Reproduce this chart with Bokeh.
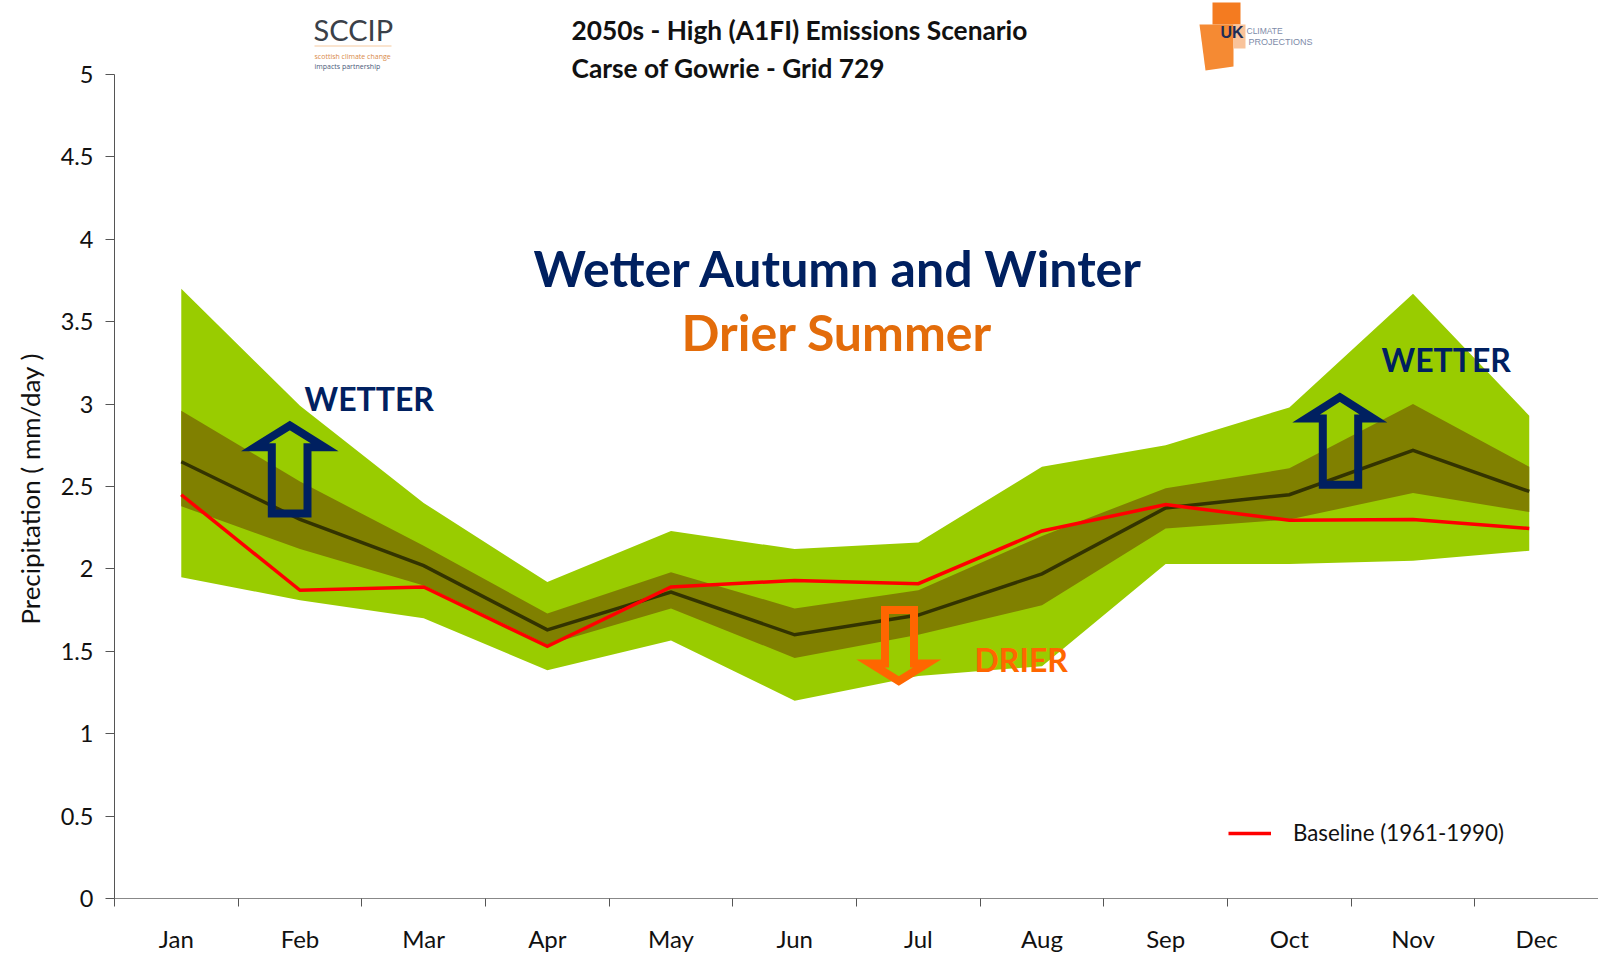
from bokeh.plotting import figure
from bokeh.embed import file_html
from bokeh.resources import INLINE
from bokeh.models import (Range1d, LinearAxis, FixedTicker, Label, PolyAnnotation,
                          Legend, LegendItem, Title)

months = ["Jan","Feb","Mar","Apr","May","Jun","Jul","Aug","Sep","Oct","Nov","Dec"]
month_pos = [0.54,1.5,2.5,3.5,4.5,5.5,6.5,7.5,8.5,9.5,10.5,11.44]
outer_high = [3.70,2.99,2.40,1.92,2.23,2.12,2.16,2.62,2.75,2.98,3.67,2.93]
outer_low  = [1.95,1.81,1.70,1.385,1.565,1.20,1.35,1.41,2.03,2.03,2.05,2.11]
inner_high = [2.96,2.53,2.14,1.73,1.98,1.76,1.87,2.20,2.49,2.61,3.00,2.62]
inner_low  = [2.38,2.12,1.90,1.54,1.76,1.46,1.60,1.78,2.245,2.30,2.46,2.345]
central    = [2.65,2.30,2.02,1.63,1.86,1.60,1.72,1.97,2.37,2.45,2.72,2.47]
baseline   = [2.45,1.87,1.89,1.53,1.89,1.93,1.91,2.23,2.39,2.295,2.30,2.245]
y_ticks = [0,0.5,1,1.5,2,2.5,3,3.5,4,4.5,5]
y_labels = ["0","0.5","1","1.5","2","2.5","3","3.5","4","4.5","5"]

FONT = "Lato"
NAVY = "#002060"
INK = "#111111"
# plot area: y=0 lies 898px down the page, y=5 lies 74px down
y_top = 5 * 898 / (898 - 74)

p = figure(width=1598, height=955, output_backend="svg", toolbar_location=None,
           x_range=Range1d(0,12), y_range=Range1d(0,y_top),
           x_axis_type=None, y_axis_type=None,
           min_border_left=114, min_border_right=0, min_border_top=0, min_border_bottom=57)
p.grid.visible = False
p.outline_line_color = None
p.background_fill_color = "white"

yax = LinearAxis(ticker=FixedTicker(ticks=y_ticks), bounds=(0,5),
                 major_label_overrides={t: s for t, s in zip(y_ticks, y_labels)},
                 major_label_text_font=FONT, major_label_text_font_size="23.5px",
                 major_label_text_color=INK, major_label_standoff=12,
                 major_tick_out=9, major_tick_in=0, minor_tick_out=0, minor_tick_in=0,
                 axis_line_color="#555555", major_tick_line_color="#555555")
p.add_layout(yax, "left")
p.add_layout(Title(text="Precipitation ( mm/day )", align="left", offset=274, standoff=22,
                   vertical_align="middle",
                   text_font=FONT, text_font_style="normal", text_font_size="25.9px",
                   text_color=INK), "left")

centers = [i + 0.5 for i in range(12)]
xax = LinearAxis(ticker=FixedTicker(ticks=centers, minor_ticks=list(range(13))),
                 major_label_overrides={c: m for c, m in zip(centers, months)},
                 major_label_text_font=FONT, major_label_text_font_size="24px",
                 major_label_text_color=INK, major_label_standoff=17,
                 major_tick_out=0, major_tick_in=0, minor_tick_out=8, minor_tick_in=0,
                 axis_line_color="#888888", minor_tick_line_color="#555555")
p.add_layout(xax, "below")

p.varea(x=month_pos, y1=outer_low, y2=outer_high, fill_color="#99CC00")
p.varea(x=month_pos, y1=inner_low, y2=inner_high, fill_color="#808000")
p.line(month_pos, central, line_color="#333300", line_width=3.5, line_join="miter")
base = p.line(month_pos, baseline, line_color="#FF0000", line_width=3.5, line_join="miter")

leg = Legend(items=[LegendItem(label="Baseline (1961-1990)", renderers=[base])],
             location=(1114, 52), border_line_color=None, background_fill_alpha=0,
             padding=0, margin=0, glyph_width=43, glyph_height=20, label_standoff=22,
             label_text_font=FONT, label_text_font_size="22.3px", label_text_color=INK)
p.add_layout(leg, "center")

def text(t, x, y, size, color, style="bold", font=FONT):
    p.add_layout(Label(text=t, x=x, y=y, x_units="canvas", y_units="canvas",
                       text_font=font, text_font_size=f"{size}px", text_color=color,
                       text_font_style=style, text_align="left", text_baseline="middle"))

def poly(xs, ys, fill=None, line=None, lw=0, alpha=1.0):
    p.add_layout(PolyAnnotation(xs=xs, ys=ys, xs_units="canvas", ys_units="canvas",
                                fill_color=fill, fill_alpha=alpha if fill else 0,
                                line_color=line, line_alpha=1 if line else 0,
                                line_width=lw, line_join="miter"))

text("2050s - High (A1FI) Emissions Scenario", 571, 29, 26.3, INK)
text("Carse of Gowrie - Grid 729", 571, 67, 26.3, INK)
text("Wetter Autumn and Winter", 533, 267, 50, NAVY)
text("Drier Summer", 681, 331, 50, "#E36C0A")
text("WETTER", 304, 398, 32, NAVY)
text("WETTER", 1381, 359, 32, NAVY)
text("DRIER", 974, 659, 32, "#FF6600")

# logos
text("SCCIP", 313, 29, 29, "#3a4048", "normal", "Lato")
poly([314,391,391,314],[45,45,46,46], fill="#f5c9a0")
text("scottish climate change", 314, 56, 7, "#d98a4a", "normal", "Open Sans")
text("impacts partnership", 314, 66, 7, "#4a5a7a", "normal", "Open Sans")
poly([1212,1240,1240,1212],[2,2,24,24], fill="#F47B20")
poly([1199,1233,1233,1205],[24,24,66,70], fill="#F58A33")
poly([1233,1245,1245,1233],[24,24,48,48], fill="#F9C39A")
text("UK", 1220, 32, 16, "#1d2c55", "bold", "Liberation Sans")
text("CLIMATE", 1246, 30, 8.5, "#7d8ba8", "normal", "Liberation Sans")
text("PROJECTIONS", 1248, 41, 9, "#7d8ba8", "normal", "Liberation Sans")

# arrows
poly([289.3,324.1,307,307,271.3,271.3,254.5],[425,446.7,446.7,513,513,446.7,446.7], line=NAVY, lw=8)
poly([1339.3,1373,1357.7,1357.7,1322.3,1322.3,1305.6],[396.7,418,418,484.3,484.3,418,418], line=NAVY, lw=8)
poly([898.3,926.6,913.5,913.5,884.5,884.5,870],[680.5,663,663,609.5,609.5,663,663], line="#FF6600", lw=8)

open("out.html","w").write(file_html(p, INLINE))
